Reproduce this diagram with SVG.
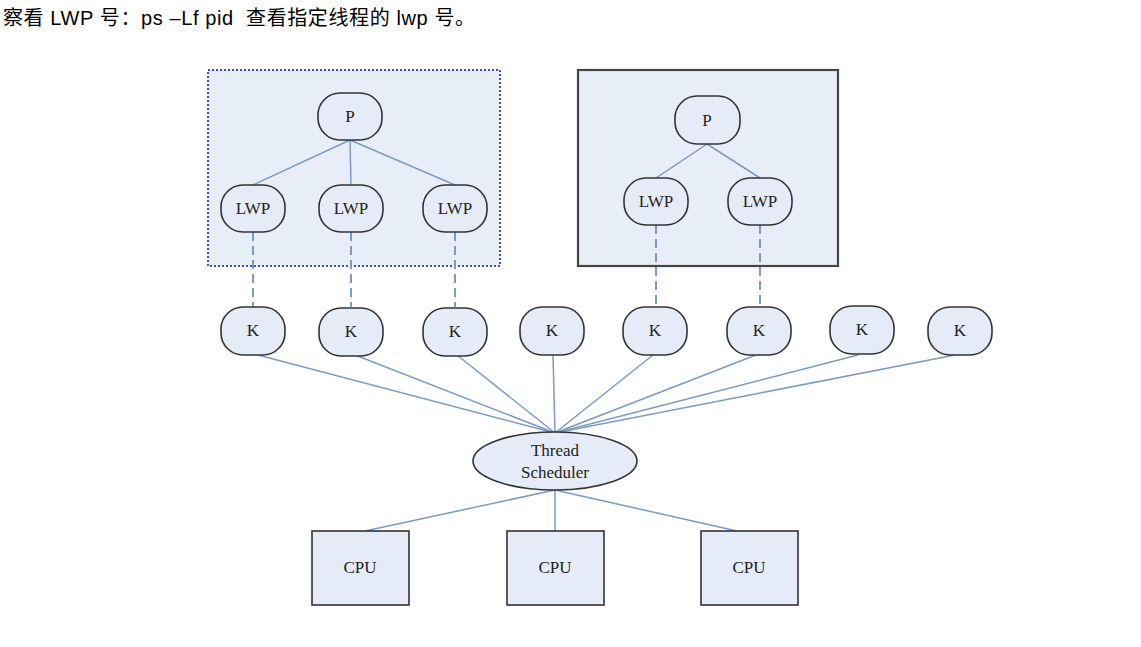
<svg xmlns="http://www.w3.org/2000/svg" width="1141" height="647" viewBox="0 0 1141 647">
<style>
.hdr{font-family:"Liberation Sans","Noto Sans CJK SC",sans-serif;font-size:20px;fill:#000;white-space:pre}
.lbl{font-family:"Liberation Serif",serif;font-size:17px;fill:#222;text-anchor:middle;dominant-baseline:central}
.nd{fill:#e6ecf7;stroke:#333;stroke-width:1.6}
.cn{stroke:#7a9bc2;stroke-width:1.5;fill:none}
.ds{stroke:#7a9bc2;stroke-width:2;stroke-dasharray:9,5;fill:none}
.box{fill:#e8eef8}
</style>
<rect width="1141" height="647" fill="#fff"/>
<text class="hdr" x="3" y="25" textLength="472" lengthAdjust="spacing" xml:space="preserve">察看 LWP 号：ps –Lf pid  查看指定线程的 lwp 号。</text>

<g id="process1">
<rect class="box" x="208" y="70" width="292" height="196" stroke="#4a4ac8" stroke-width="2" stroke-dasharray="2,2"/>
</g>
<g id="process2">
<rect class="box" x="578" y="70" width="260" height="196" stroke="#444" stroke-width="2.2"/>
</g>

<g id="connectors">
<line class="cn" x1="350" y1="140" x2="253" y2="185"/>
<line class="cn" x1="350" y1="140" x2="351" y2="185"/>
<line class="cn" x1="350" y1="140" x2="455" y2="185"/>
<line class="cn" x1="707" y1="144" x2="656" y2="178"/>
<line class="cn" x1="707" y1="144" x2="760" y2="178"/>
<line class="ds" x1="253" y1="232" x2="253" y2="307"/>
<line class="ds" x1="351" y1="232" x2="351" y2="307"/>
<line class="ds" x1="455" y1="232" x2="455" y2="307"/>
<line class="ds" x1="656" y1="225" x2="656" y2="307"/>
<line class="ds" x1="760" y1="225" x2="760" y2="307"/>
<line class="cn" x1="258" y1="355" x2="555" y2="433"/>
<line class="cn" x1="355" y1="355" x2="555" y2="433"/>
<line class="cn" x1="457" y1="355" x2="555" y2="433"/>
<line class="cn" x1="553" y1="355" x2="555" y2="433"/>
<line class="cn" x1="653" y1="355" x2="555" y2="433"/>
<line class="cn" x1="756" y1="355" x2="555" y2="433"/>
<line class="cn" x1="858" y1="355" x2="555" y2="433"/>
<line class="cn" x1="955" y1="355" x2="555" y2="433"/>
<line class="cn" x1="555" y1="490" x2="365" y2="531"/>
<line class="cn" x1="555" y1="490" x2="555" y2="531"/>
<line class="cn" x1="555" y1="490" x2="737" y2="531"/>
</g>

<g id="P1"><rect class="nd" x="318" y="93" width="64" height="47" rx="22"/><text class="lbl" x="350" y="116">P</text></g>
<g id="LWP1"><rect class="nd" x="221" y="185" width="64" height="47" rx="22"/><text class="lbl" x="253" y="208">LWP</text></g>
<g id="LWP2"><rect class="nd" x="319" y="185" width="64" height="47" rx="22"/><text class="lbl" x="351" y="208">LWP</text></g>
<g id="LWP3"><rect class="nd" x="423" y="185" width="64" height="47" rx="22"/><text class="lbl" x="455" y="208">LWP</text></g>
<g id="P2"><rect class="nd" x="675" y="96" width="65" height="48" rx="22"/><text class="lbl" x="707" y="120">P</text></g>
<g id="LWP4"><rect class="nd" x="624" y="178" width="64" height="47" rx="22"/><text class="lbl" x="656" y="201">LWP</text></g>
<g id="LWP5"><rect class="nd" x="728" y="178" width="64" height="47" rx="22"/><text class="lbl" x="760" y="201">LWP</text></g>

<g id="K1"><rect class="nd" x="221" y="307" width="64" height="48" rx="22"/><text class="lbl" x="253" y="330">K</text></g>
<g id="K2"><rect class="nd" x="319" y="308" width="64" height="48" rx="22"/><text class="lbl" x="351" y="331">K</text></g>
<g id="K3"><rect class="nd" x="423" y="308" width="64" height="48" rx="22"/><text class="lbl" x="455" y="331">K</text></g>
<g id="K4"><rect class="nd" x="520" y="307" width="64" height="48" rx="22"/><text class="lbl" x="552" y="330">K</text></g>
<g id="K5"><rect class="nd" x="623" y="307" width="64" height="48" rx="22"/><text class="lbl" x="655" y="330">K</text></g>
<g id="K6"><rect class="nd" x="727" y="307" width="64" height="48" rx="22"/><text class="lbl" x="759" y="330">K</text></g>
<g id="K7"><rect class="nd" x="830" y="306" width="64" height="48" rx="22"/><text class="lbl" x="862" y="329">K</text></g>
<g id="K8"><rect class="nd" x="928" y="307" width="64" height="48" rx="22"/><text class="lbl" x="960" y="330">K</text></g>

<g id="scheduler"><ellipse class="nd" cx="555" cy="461" rx="82" ry="29"/><text class="lbl" x="555" y="450">Thread</text><text class="lbl" x="555" y="472">Scheduler</text></g>

<g id="CPU1"><rect class="nd" x="312" y="531" width="97" height="74" stroke="#555" stroke-width="2"/><text class="lbl" x="360" y="567">CPU</text></g>
<g id="CPU2"><rect class="nd" x="507" y="531" width="97" height="74" stroke="#555" stroke-width="2"/><text class="lbl" x="555" y="567">CPU</text></g>
<g id="CPU3"><rect class="nd" x="701" y="531" width="97" height="74" stroke="#555" stroke-width="2"/><text class="lbl" x="749" y="567">CPU</text></g>
</svg>
